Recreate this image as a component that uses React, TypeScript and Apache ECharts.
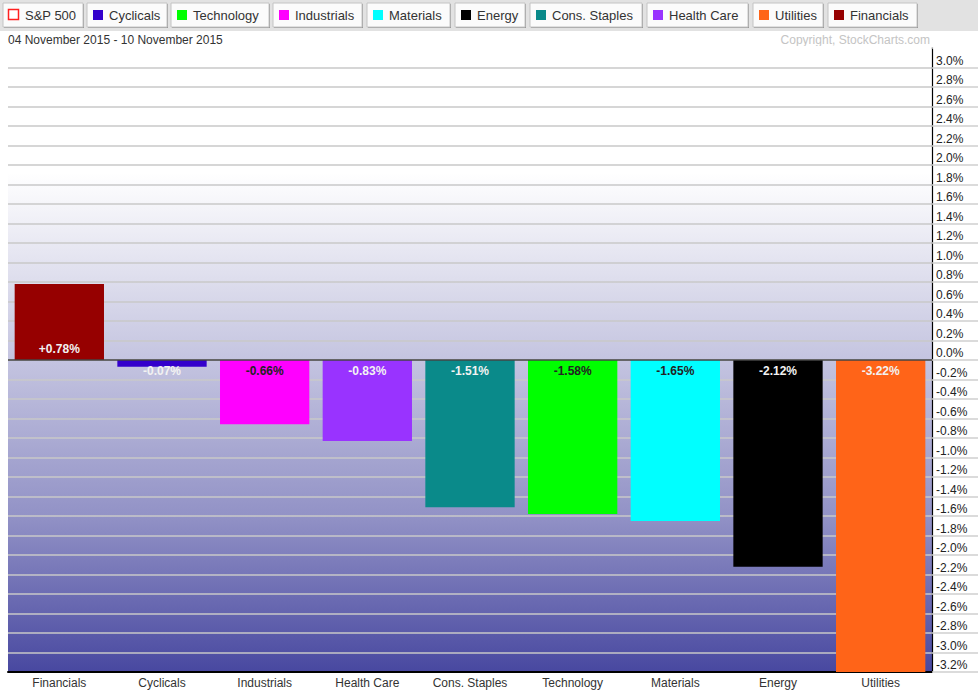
import React, { useEffect, useRef } from "react";
import * as echarts from "echarts";

const categories = ["Financials", "Cyclicals", "Industrials", "Health Care", "Cons. Staples", "Technology", "Materials", "Energy", "Utilities"];
const values = [0.78, -0.07, -0.66, -0.83, -1.51, -1.58, -1.65, -2.12, -3.22];
const barColors = ["#960000", "#3300cc", "#ff00ff", "#9933ff", "#0a8a8a", "#00ff00", "#00ffff", "#000000", "#ff6418"];
const labelColors = ["#f2f2f2", "#f2f2f2", "#222222", "#f2f2f2", "#f2f2f2", "#222222", "#222222", "#f2f2f2", "#f2f2f2"];

const legendNames = ["S&P 500", "Cyclicals", "Technology", "Industrials", "Materials", "Energy", "Cons. Staples", "Health Care", "Utilities", "Financials"];
const legendColors = ["#ff2020", "#3300cc", "#00ff00", "#ff00ff", "#00ffff", "#000000", "#0a8a8a", "#9933ff", "#ff6418", "#960000"];
const legendHollow = [true, false, false, false, false, false, false, false, false, false];

const dateRange = "04 November 2015 - 10 November 2015";
const copyright = "Copyright, StockCharts.com";
const yMin = -3.2;
const yMax = 3.2;
const yStep = 0.2;

const FONT = "'Liberation Sans', Arial, sans-serif";

export default function App() {
  const ref = useRef<HTMLDivElement>(null);
  useEffect(() => {
    if (!ref.current) return;
    const chart = echarts.init(ref.current, undefined, { renderer: "svg" });

    // legend buttons layout
    const btnX = [3, 87, 171, 273, 367, 455, 530, 647, 753, 828];
    const btnR = [83, 167, 269, 362, 450, 525, 642, 748, 823, 917];
    const graphics: any[] = [
      { type: "rect", shape: { x: 0, y: 0, width: 978, height: 31 }, style: { fill: "#e2e2e2" }, silent: true },
      // hide the top (3.2%) grid line and tick, which the reference does not draw
      { type: "rect", shape: { x: 8, y: 46, width: 923.4, height: 3.2 }, style: { fill: "#ffffff" }, silent: true, z: 100 },
      { type: "rect", shape: { x: 933.2, y: 46, width: 45, height: 3.2 }, style: { fill: "#ffffff" }, silent: true, z: 100 },
    ];
    legendNames.forEach((n, i) => {
      const x = btnX[i];
      const w = btnR[i] - btnX[i];
      graphics.push({
        type: "rect",
        shape: { x: x + 1, y: 4, width: w, height: 24 },
        style: { fill: "#9a9a9a" },
        silent: true,
      });
      graphics.push({
        type: "rect",
        shape: { x: x, y: 3, width: w, height: 24 },
        style: { fill: "#fbfbfb", stroke: "#c4c4c4", lineWidth: 1 },
        silent: true,
      });
      graphics.push({
        type: "rect",
        shape: legendHollow[i]
          ? { x: x + 5.5, y: 9.5, width: 10, height: 10 }
          : { x: x + 6, y: 10, width: 10, height: 10 },
        style: legendHollow[i]
          ? { fill: "#ffffff", stroke: legendColors[i], lineWidth: 1.5 }
          : { fill: legendColors[i] },
        silent: true,
      });
      graphics.push({
        type: "text",
        x: x + 22,
        y: 15.5,
        style: { text: n, fill: "#333333", font: `13px ${FONT}`, verticalAlign: "middle", align: "left" },
        silent: true,
      });
    });
    graphics.push({
      type: "text",
      x: 8,
      y: 40,
      style: { text: dateRange, fill: "#333333", font: `12px ${FONT}`, verticalAlign: "middle" },
      silent: true,
    });
    graphics.push({
      type: "text",
      x: 930,
      y: 40,
      style: { text: copyright, fill: "#c4c4c4", font: `12px ${FONT}`, verticalAlign: "middle", align: "right" },
      silent: true,
    });

    chart.setOption({
      animation: false,
      backgroundColor: "#ffffff",
      textStyle: { fontFamily: FONT },
      grid: {
        left: 8,
        right: 46,
        top: 48,
        bottom: 22,
        show: true,
        borderWidth: 0,
        backgroundColor: {
          type: "linear",
          x: 0,
          y: 0,
          x2: 0,
          y2: 1,
          colorStops: [
            { offset: 0, color: "#ffffff" },
            { offset: 0.2, color: "#ffffff" },
            { offset: 0.38, color: "#dcdcec" },
            { offset: 0.5, color: "#c4c4e0" },
            { offset: 0.75, color: "#9292c6" },
            { offset: 1, color: "#4848a0" },
          ],
        },
      },
      xAxis: {
        type: "category",
        data: categories,
        axisLine: { show: true, onZero: false, lineStyle: { color: "#000000", width: 2 } },
        axisTick: { show: false },
        axisLabel: { color: "#333333", fontSize: 12, margin: 5, fontFamily: FONT },
        splitLine: { show: false },
      },
      yAxis: {
        type: "value",
        position: "right",
        min: yMin,
        max: yMax,
        interval: yStep,
        axisLine: { show: true, lineStyle: { color: "#000000", width: 1.2 } },
        axisTick: { show: true, length: 46, lineStyle: { color: "#cfcfcf", width: 1.5 } },
        axisLabel: {
          color: "#222222",
          fontSize: 12,
          margin: 4,
          verticalAlign: "bottom",
          padding: [0, 0, 1, 0],
          fontFamily: FONT,
          formatter: (v: number) => (Math.abs(v - yMax) < 1e-6 ? "" : v.toFixed(1) + "%"),
        },
        splitLine: { show: true, lineStyle: { color: "#c8c8c8", width: 1.5 } },
      },
      series: [
        {
          type: "bar",
          barCategoryGap: "13%",
          data: values.map((v, i) => ({
            value: v,
            itemStyle: { color: barColors[i] },
            label: {
              show: true,
              position: v >= 0 ? "insideBottom" : "insideTop",
              distance: 5,
              color: labelColors[i],
              fontSize: 12,
              fontWeight: "bold",
              fontFamily: FONT,
              formatter: () => (v > 0 ? "+" : "") + v.toFixed(2) + "%",
            },
          })),
          markLine: {
            silent: true,
            symbol: "none",
            label: { show: false },
            lineStyle: { color: "#444444", width: 1.5, type: "solid" },
            data: [{ yAxis: 0 }],
          },
        },
      ],
      graphic: graphics,
    });
    return () => chart.dispose();
  }, []);
  return <div ref={ref} style={{ position: "fixed", left: 0, top: 0, width: 978, height: 694 }} />;
}
